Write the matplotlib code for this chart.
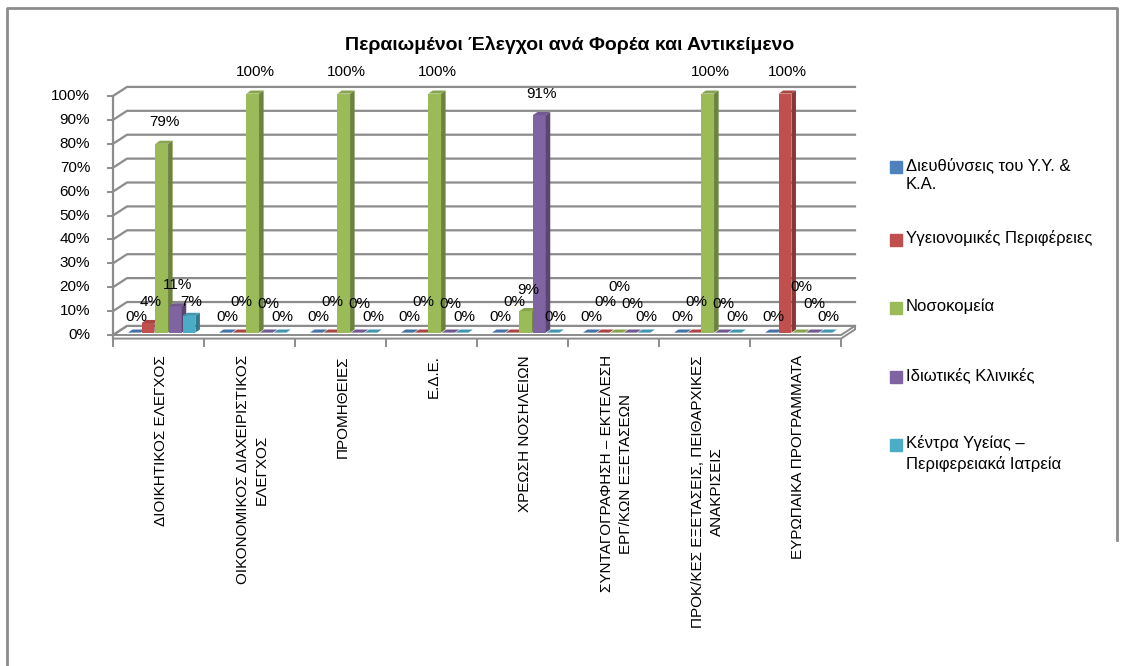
import numpy as np
import matplotlib.pyplot as plt
from matplotlib.patches import Polygon, Rectangle

plt.rcParams['font.family'] = ['Liberation Sans', 'DejaVu Sans']

# κατηγορίες ελέγχων (άξονας x)
categories = [
    "ΔΙΟΙΚΗΤΙΚΟΣ ΕΛΕΓΧΟΣ",
    "ΟΙΚΟΝΟΜΙΚΟΣ ΔΙΑΧΕΙΡΙΣΤΙΚΟΣ\nΕΛΕΓΧΟΣ",
    "ΠΡΟΜΗΘΕΙΕΣ",
    "Ε.Δ.Ε.",
    "ΧΡΕΩΣΗ ΝΟΣΗΛΕΙΩΝ",
    "ΣΥΝΤΑΓΟΓΡΑΦΗΣΗ – ΕΚΤΕΛΕΣΗ\nΕΡΓ/ΚΩΝ ΕΞΕΤΑΣΕΩΝ",
    "ΠΡΟΚ/ΚΕΣ ΕΞΕΤΑΣΕΙΣ, ΠΕΙΘΑΡΧΙΚΕΣ\nΑΝΑΚΡΙΣΕΙΣ",
    "ΕΥΡΩΠΑΙΚΑ ΠΡΟΓΡΑΜΜΑΤΑ",
]

series_names = [
    "Διευθύνσεις του Υ.Υ. &\nΚ.Α.",
    "Υγειονομικές Περιφέρειες",
    "Νοσοκομεία",
    "Ιδιωτικές Κλινικές",
    "Κέντρα Υγείας –\nΠεριφερειακά Ιατρεία",
]

# ποσοστά (%) ανά φορέα
dieythynseis = [0, 0, 0, 0, 0, 0, 0, 0]
ygeionomikes = [4, 0, 0, 0, 0, 0, 0, 100]
nosokomeia = [79, 100, 100, 100, 9, 0, 100, 0]
idiotikes = [11, 0, 0, 0, 91, 0, 0, 0]
kentra = [7, 0, 0, 0, 0, 0, 0, 0]

y_ticks = [0, 10, 20, 30, 40, 50, 60, 70, 80, 90, 100]

title = "Περαιωμένοι Έλεγχοι ανά Φορέα και Αντικείμενο"

series = [dieythynseis, ygeionomikes, nosokomeia, idiotikes, kentra]
colors = ['#4F81BD', '#C0504D', '#9BBB59', '#8064A2', '#4BACC6']
gridc = '#8c8c8c'


def shade(c, f):
    c = c.lstrip('#')
    rgb = [int(c[k:k + 2], 16) / 255 for k in (0, 2, 4)]
    return tuple(min(1, v * f) for v in rgb)


W, H = 1123, 666
fig = plt.figure(figsize=(W / 100, H / 100), dpi=100)

# πλαίσιο, τίτλος, υπόμνημα σε pixel
bg = fig.add_axes([0, 0, 1, 1])
bg.set_xlim(0, W)
bg.set_ylim(H, 0)
bg.axis('off')
bg.plot([7, 7, 1117, 1117], [666, 8, 8, 540], color=gridc, lw=2)
bg.text(570, 45, title, ha='center', va='center', fontsize=14, fontweight='bold')

leg_y = [167, 240, 308, 377, 445]
for name, col, ly in zip(series_names, colors, leg_y):
    bg.add_patch(Rectangle((890, ly - 6), 12, 12, color=col))
    bg.text(906, ly - 10, name, ha='left', va='top', fontsize=12, linespacing=1.35)

# περιοχή γραφήματος (μπροστινό επίπεδο)
ax = fig.add_axes([113 / W, (H - 335) / H, 728 / W, 239 / H])
ax.set_xlim(0, 8)
ax.set_ylim(0, 100)
ax.axis('off')
n = len(categories)

dx, dy = 0.154, 3.8          # βάθος τοίχου
sx, sy = 0.03, 1.0           # θέση ράβδων μέσα στο βάθος
bdx, bdy = 0.05, 1.3         # βάθος ράβδου
w, step, start = 0.14, 0.15, 0.135

# γραμμές πλέγματος στον πίσω και πλαϊνό τοίχο
for v in y_ticks:
    ax.plot([0, dx, n + dx], [v, v + dy, v + dy], color=gridc, lw=1.6, clip_on=False)
    ax.plot([-0.05, 0], [v, v], color=gridc, lw=1.4, clip_on=False)
    ax.text(-0.25, v, f'{v}%', ha='right', va='center', fontsize=11)
ax.plot([0, 0], [-1.5, 100], color=gridc, lw=1.6, clip_on=False)

# δάπεδο
ax.add_patch(Polygon([(0, 0), (n, 0), (n + dx, dy), (dx, dy)], closed=True,
                     facecolor='white', edgecolor=gridc, lw=1.4, clip_on=False))
ax.plot([0, n, n + dx, n + dx], [-1.5, -1.5, dy - 1.5, dy], color=gridc, lw=1.4, clip_on=False)
for c in range(n + 1):
    ax.plot([c, c], [-1.5, -4.5], color=gridc, lw=1.4, clip_on=False)

# ράβδοι με πλευρική και πάνω όψη
zero_off = [7.5, 14, 20, 13, 7.5]
val_off = [10, 10, 10, 10, 7]
xs = np.arange(n)
for i, (vals, col) in enumerate(zip(series, colors)):
    x0s = xs + start + i * step + sx
    z = 3 + i
    ax.bar(x0s, vals, width=w, bottom=sy, align='edge', color=col, zorder=z, clip_on=False)
    for x0, v in zip(x0s, vals):
        y1 = v + sy
        ax.add_patch(Polygon([(x0 + w, sy), (x0 + w + bdx, sy + bdy), (x0 + w + bdx, y1 + bdy), (x0 + w, y1)],
                             closed=True, facecolor=shade(col, 0.7), edgecolor='none', zorder=z, clip_on=False))
        ax.add_patch(Polygon([(x0, y1), (x0 + w, y1), (x0 + w + bdx, y1 + bdy), (x0 + bdx, y1 + bdy)],
                             closed=True, facecolor=shade(col, 0.88), edgecolor='none', zorder=z, clip_on=False))
        ly = v + (val_off[i] if v else zero_off[i])
        ax.text(x0 + w / 2 + bdx / 2, ly, f'{v}%', ha='center', va='center', fontsize=11, zorder=20)

# ετικέτες κατηγοριών
for c, lab in enumerate(categories):
    ax.text(c + 0.53, -8.4, lab, rotation=90, ha='center', va='top', multialignment='center',
            fontsize=11, linespacing=1.45, clip_on=False)

fig.savefig('out.png', dpi=100)
